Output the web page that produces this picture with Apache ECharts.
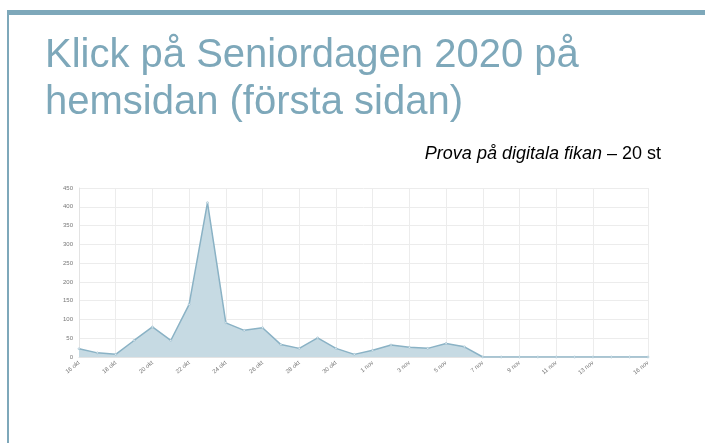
<!DOCTYPE html>
<html>
<head>
<meta charset="utf-8">
<script src="https://cdn.jsdelivr.net/npm/echarts@6/dist/echarts.min.js"></script>
<style>
	html, body { margin: 0; padding: 0; background: #fff; }
	#main { width: 705px; height: 443px; }
</style>
</head>
<body>
<div id="main"></div>
<script>
// dagar 16 okt - 16 nov
var dagar = ['16 okt', '17 okt', '18 okt', '19 okt', '20 okt', '21 okt', '22 okt', '23 okt',
	'24 okt', '25 okt', '26 okt', '27 okt', '28 okt', '29 okt', '30 okt', '31 okt',
	'1 nov', '2 nov', '3 nov', '4 nov', '5 nov', '6 nov', '7 nov', '8 nov',
	'9 nov', '10 nov', '11 nov', '12 nov', '13 nov', '14 nov', '15 nov', '16 nov'];
var klick = [22, 11, 7, 44, 80, 44, 140, 411,
	91, 71, 78, 33, 23, 51, 23, 7,
	18, 32, 26, 23, 36, 27, 0, 0,
	0, 0, 0, 0, 0, 0, 0, 0];
var yTicks = [0, 50, 100, 150, 200, 250, 300, 350, 400, 450];

var rubrik = 'Klick på Seniordagen 2020 på\nhemsidan (första sidan)';
var blaGra = '#7ea8ba';

// varannan dag, plus sista dagen
function visaEtikett(index) {
	return index === dagar.length - 1 || (index % 2 === 0 && index <= dagar.length - 4);
}

var chart = echarts.init(document.getElementById('main'));
var option = {
	animation: false,
	title: {
		text: rubrik,
		left: 40,
		top: 27,
		textStyle: {
			fontFamily: 'Liberation Sans',
			fontSize: 40,
			fontWeight: 'normal',
			lineHeight: 47,
			color: blaGra
		}
	},
	graphic: [
		{ type: 'rect', shape: { x: 7, y: 10, width: 698, height: 5 }, style: { fill: blaGra } },
		{ type: 'rect', shape: { x: 7, y: 10, width: 2, height: 433 }, style: { fill: blaGra } },
		{
			type: 'text',
			right: 44,
			top: 145,
			style: {
				text: '{i|Prova på digitala fikan} – 20 st',
				font: '18px "Liberation Sans"',
				fill: '#000',
				rich: {
					i: { fontStyle: 'italic', fontSize: 18, fontFamily: 'Liberation Sans', fill: '#000' }
				}
			}
		}
	],
	grid: {
		left: 79,
		right: 57,
		top: 188,
		bottom: 86
	},
	xAxis: {
		type: 'category',
		boundaryGap: false,
		data: dagar,
		axisLine: { lineStyle: { color: '#e3e3e3' } },
		axisTick: { show: false },
		axisLabel: {
			interval: function(index) { return visaEtikett(index); },
			rotate: 40,
			fontSize: 6,
			color: '#777',
			margin: 5
		},
		splitLine: {
			show: true,
			interval: function(index) { return visaEtikett(index); },
			lineStyle: { color: '#ececec' }
		}
	},
	yAxis: {
		type: 'value',
		min: yTicks[0],
		max: yTicks[yTicks.length - 1],
		interval: 50,
		axisLine: { show: true, lineStyle: { color: '#e3e3e3' } },
		axisTick: { show: false },
		axisLabel: { fontSize: 6, color: '#777', margin: 6 },
		splitLine: { lineStyle: { color: '#ececec' } }
	},
	series: [{
		name: 'Klick',
		type: 'line',
		data: klick,
		symbol: 'circle',
		symbolSize: 2,
		itemStyle: { color: '#e8f0f4', borderColor: '#8fb4c6', borderWidth: 0.5 },
		lineStyle: { color: '#8ab2c5', width: 1.5 },
		areaStyle: { color: '#c6dae3', opacity: 1 }
	}]
};
chart.setOption(option);
</script>
</body>
</html>
